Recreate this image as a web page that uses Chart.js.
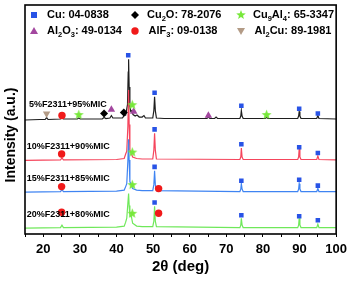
<!DOCTYPE html>
<html>
<head>
<meta charset="utf-8">
<script src="https://cdn.jsdelivr.net/npm/chart.js@4.4.0/dist/chart.umd.min.js"></script>
<style>
html,body{margin:0;padding:0;background:#fff;}
</style>
</head>
<body>
<canvas id="myChart" width="352" height="284"></canvas>
<script>
// xrd patterns, [2theta, intensity] (stacked, offset by hand)
const pat5 = [[15,116.5],[19,117],[20.5,117],[20.9,119],[21.3,117],[24.7,117.5],[25.1,119],[25.5,117.5],[29.3,117.5],[29.7,118.5],[30.1,117.5],[36.1,117.5],[36.6,119],[37.1,118],[38.2,118.5],[38.6,121],[39,118.5],[41.6,118.5],[42,120.5],[42.5,121.5],[43,132],[43.2,165],[43.3,178],[43.45,150],[43.65,130],[43.9,125],[44.2,126],[44.5,122],[45.1,120.5],[45.6,121.5],[46.2,119.5],[47,119.5],[47.5,121],[47.9,118.5],[49.9,118.5],[50.2,126],[50.4,140],[50.6,126],[50.9,118.5],[53,118],[64.7,118],[65.1,119.5],[65.5,118],[66.8,118],[67.2,119.5],[67.6,118],[73.7,118],[73.95,120.5],[74.1,126],[74.3,120.5],[74.6,118],[80.6,118],[81,119],[81.4,118],[89.5,118],[89.75,120.5],[89.9,125],[90.1,120.5],[90.4,118],[94.7,118],[95,121],[95.3,118],[100,117.5]];
const pat10 = [[15,75.5],[24.7,76],[25.1,78],[25.5,76],[40,76.5],[42.1,77.5],[42.5,82],[42.8,85],[43.1,110],[43.3,147],[43.45,112],[43.65,86],[44,83],[44.4,79],[45.5,77.5],[47,77],[49.9,77],[50.2,86],[50.4,103],[50.6,86],[50.9,77],[73.7,76.5],[73.95,79],[74.1,88],[74.3,79],[74.6,76.5],[89.5,76.5],[89.75,79],[89.9,87],[90.1,79],[90.4,76.5],[94.7,76.5],[95,80],[95.3,76.5],[100,76]];
const pat15 = [[15,43.5],[24.7,44],[25.1,46],[25.5,44],[40,44.5],[42.1,45.5],[42.5,49],[42.8,52],[43.1,75],[43.3,97],[43.45,76],[43.65,54],[44,51],[44.4,47],[45.5,45.5],[47,45],[49.9,45],[50.2,51],[50.4,65],[50.6,51],[50.9,45],[73.7,44],[73.95,46.5],[74.1,52],[74.3,46.5],[74.6,44],[89.5,44],[89.75,46.5],[89.9,52],[90.1,46.5],[90.4,44],[94.7,44],[95,47],[95.3,44],[100,44]];
const pat20 = [[15,7],[24.7,7.5],[25.1,10],[25.5,7.5],[40,8],[42.1,9],[42.5,13],[42.8,17],[43.1,32],[43.3,42],[43.45,30],[43.65,19],[44,20],[44.4,12],[45.5,9],[47,8.5],[49.9,8.5],[50.2,14],[50.4,29],[50.6,14],[50.9,8.5],[73.7,7.5],[73.95,10],[74.1,17],[74.3,10],[74.6,7.5],[89.5,7.5],[89.75,10],[89.9,17],[90.1,10],[90.4,7.5],[94.7,7.5],[95,11],[95.3,7.5],[100,7.5]];

// phase markers
const cuPts = [[43.2,182],[50.4,144],[74.1,131],[89.9,128],[95,123],[50.4,107],[74.1,92],[89.9,89],[95,83],[50.4,69],[74.1,55],[89.9,56],[95,50],[50.4,33],[74.1,20],[89.9,19],[95,15]];
const cu2oPts = [[36.6,123],[42,124]];
const cu9al4Pts = [[29.7,122],[44.3,132],[81,122],[44.3,84],[44.3,51],[44.3,22]];
const al2o3Pts = [[38.6,127],[44.7,125],[65.1,121]];
const alf3Pts = [[25.1,121],[25,82],[25,49],[51.5,47],[25,23],[51.5,22]];
const al2cuPts = [[20.9,123]];

const sampleNames = ['5%F2311+95%MIC','10%F2311+90%MIC','15%F2311+85%MIC','20%F2311+80%MIC'];
const nameX = [16.1,15.5,15.5,15.5];
const nameY = [132,90,57,21];

const xTicks = [20,30,40,50,60,70,80,90,100];

const BOLD = 'Arial, "Liberation Sans", sans-serif';
const cBlue = '#2853e6', cStar = '#77e83a', cTri = '#a3479f', cCirc = '#f01a1a', cDown = '#b39b86';

function drawStar(g,cx,cy,R,r,color){
  g.beginPath();
  for(let i=0;i<10;i++){
    let rad = i%2 ? r : R;
    let a = -Math.PI/2 + i*Math.PI/5;
    g.lineTo(cx+rad*Math.cos(a), cy+rad*Math.sin(a));
  }
  g.closePath();
  g.fillStyle = color;
  g.fill();
}
function makeStar(color){
  let c = document.createElement('canvas');
  c.width = 11; c.height = 11;
  drawStar(c.getContext('2d'),5.5,5.8,5.2,2.2,color);
  return c;
}
const starImg = makeStar(cStar);

function pattern(d,color,order){
  return {data:d.map(p=>({x:p[0],y:p[1]})),showLine:true,borderColor:color,borderWidth:1.2,pointRadius:0,tension:0,order:order};
}
function marks(d,style,color,r,extra){
  return Object.assign({data:d.map(p=>({x:p[0],y:p[1]})),showLine:false,pointStyle:style,pointRadius:r,pointBackgroundColor:color,pointBorderColor:color,pointBorderWidth:0,order:0},extra||{});
}

// legend entries: [marker, text parts ([text, isSub])]
const legendRows = [
  [['sq',[['Cu: 04-0838',0]]],['dia',[['Cu',0],['2',1],['O: 78-2076',0]]],['star',[['Cu',0],['9',1],['Al',0],['4',1],[': 65-3347',0]]]],
  [['tri',[['Al',0],['2',1],['O',0],['3',1],[': 49-0134',0]]],['circ',[['AlF',0],['3',1],[': 09-0138',0]]],['down',[['Al',0],['2',1],['Cu: 89-1981',0]]]]
];

function drawMarker(ctx,type,x,y){
  ctx.save();
  if(type==='sq'){ctx.fillStyle=cBlue;ctx.fillRect(x-3,y-3,6,6);}
  if(type==='dia'){ctx.fillStyle='#000';ctx.beginPath();ctx.moveTo(x,y-4);ctx.lineTo(x+4,y);ctx.lineTo(x,y+4);ctx.lineTo(x-4,y);ctx.closePath();ctx.fill();}
  if(type==='star'){drawStar(ctx,x,y,5,2.1,cStar);}
  if(type==='tri'){ctx.fillStyle=cTri;ctx.beginPath();ctx.moveTo(x,y-4);ctx.lineTo(x+4,y+3);ctx.lineTo(x-4,y+3);ctx.closePath();ctx.fill();}
  if(type==='circ'){ctx.fillStyle=cCirc;ctx.beginPath();ctx.arc(x,y,3.7,0,Math.PI*2);ctx.fill();}
  if(type==='down'){ctx.fillStyle=cDown;ctx.beginPath();ctx.moveTo(x-4,y-3);ctx.lineTo(x+4,y-3);ctx.lineTo(x,y+4);ctx.closePath();ctx.fill();}
  ctx.restore();
}

const decor = {
  id:'decor',
  afterDraw(chart){
    const ctx = chart.ctx, a = chart.chartArea;
    const xs = chart.scales.x, ys = chart.scales.y;
    ctx.save();
    // frame
    ctx.strokeStyle = '#000';
    ctx.lineWidth = 1.6;
    ctx.strokeRect(a.left, a.top, a.right-a.left, a.bottom-a.top);
    // sample names
    ctx.fillStyle = '#000';
    ctx.font = 'bold 9px ' + BOLD;
    ctx.textBaseline = 'middle';
    for(let i=0;i<sampleNames.length;i++){
      ctx.fillText(sampleNames[i], xs.getPixelForValue(nameX[i]), ys.getPixelForValue(nameY[i]));
    }
    // legend
    const colM = [34,135,241], colT = [47,147,253], rowY = [15,31];
    for(let r=0;r<2;r++){
      for(let c=0;c<3;c++){
        let it = legendRows[r][c];
        drawMarker(ctx,it[0],colM[c],rowY[r]);
        let x = colT[c] + (r===1 && c>0 ? 1.5 : 0);
        for(const part of it[1]){
          if(part[1]){
            ctx.font = 'bold 7.5px ' + BOLD;
            ctx.fillText(part[0], x, rowY[r]+3.5);
          }else{
            ctx.font = 'bold 11px ' + BOLD;
            ctx.fillText(part[0], x, rowY[r]);
          }
          x += ctx.measureText(part[0]).width;
        }
      }
    }
    // y title
    ctx.translate(11,135);
    ctx.rotate(-Math.PI/2);
    ctx.textAlign = 'center';
    ctx.font = 'bold 14px ' + BOLD;
    ctx.fillText('Intensity (a.u.)',0,0);
    ctx.restore();
  }
};

const ctx = document.getElementById('myChart').getContext('2d');
const myChart = new Chart(ctx,{
  type:'scatter',
  data:{datasets:[
    pattern(pat5,'#1e1e1e',4),
    pattern(pat10,'#f5455c',3),
    pattern(pat15,'#3f84f2',2),
    pattern(pat20,'#6fe85a',1),
    marks(cuPts,'rect',cBlue,3.2),
    marks(cu2oPts,'rectRot','#000',4),
    marks(cu9al4Pts,starImg,cStar,5),
    marks(al2o3Pts,'triangle',cTri,4.3),
    marks(alf3Pts,'circle',cCirc,3.7),
    marks(al2cuPts,'triangle',cDown,4.3,{pointRotation:180})
  ]},
  options:{
    responsive:false,
    animation:false,
    events:[],
    layout:{padding:{left:25,right:13,top:2,bottom:0}},
    plugins:{legend:{display:false},tooltip:{enabled:false}},
    scales:{
      x:{
        type:'linear',min:15,max:100,
        afterBuildTicks(s){ s.ticks = []; for(let v=15;v<=100;v+=5) s.ticks.push({value:v}); },
        ticks:{autoSkip:false,maxRotation:0,color:'#000',padding:5,
          font:{family:BOLD,size:13,weight:'bold'},
          callback:v=>xTicks.includes(v)?String(v):''},
        grid:{display:true,drawOnChartArea:false,drawTicks:true,tickLength:3,color:'#000',lineWidth:1},
        border:{display:false},
        title:{display:true,text:'2θ (deg)',color:'#000',font:{family:BOLD,size:15,weight:'bold'},padding:{top:2,bottom:8}},
        afterFit(s){ s.height = 50; }
      },
      y:{display:false,min:1,max:233}
    }
  },
  plugins:[decor]
});
</script>
</body>
</html>
